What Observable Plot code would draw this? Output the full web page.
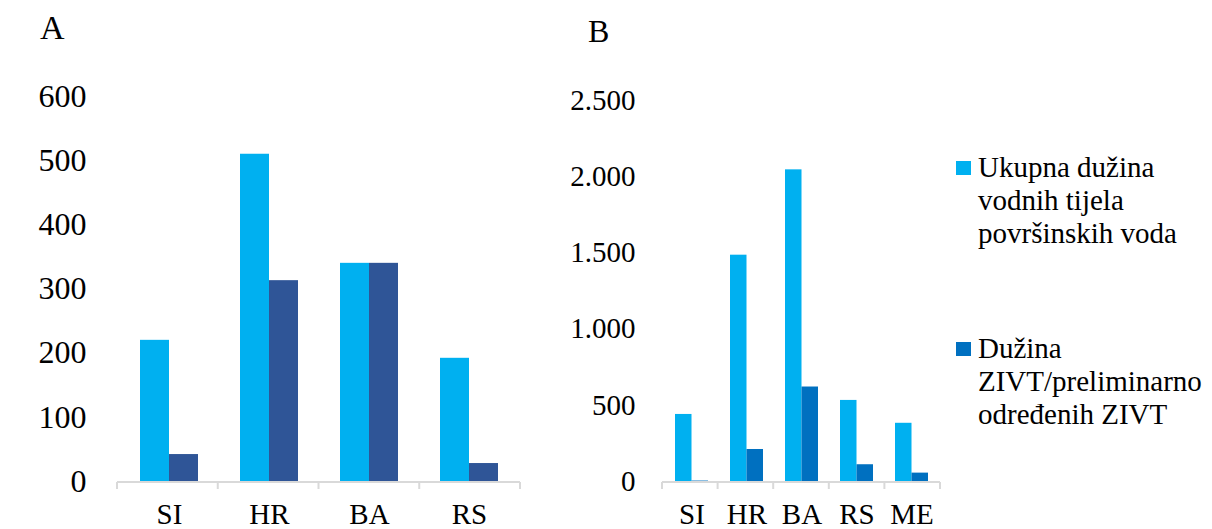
<!DOCTYPE html>
<html>
<head>
<meta charset="utf-8">
<script src="https://cdn.jsdelivr.net/npm/d3@7"></script>
<script src="https://cdn.jsdelivr.net/npm/@observablehq/plot@0.6"></script>
<style>
  body { margin: 0; background: #fff; }
  #wrap { position: relative; width: 1212px; height: 529px; overflow: hidden; font-family: 'Liberation Serif', serif; color: #000; background: #fff; }
  .panel { position: absolute; top: 0; }
  .title { position: absolute; line-height: 1; white-space: nowrap; font-family: 'Liberation Serif', serif; }
  .leg { position: absolute; font-family: 'Liberation Serif', serif; font-size: 29px; line-height: 33px; white-space: nowrap; }
  .sw { position: absolute; width: 15px; height: 14px; }
</style>
</head>
<body>
<div id="wrap"></div>
<script>
// ---- data ----
const catsA = ["SI", "HR", "BA", "RS"];
const totalA = [220, 510, 340, 192];
const zivtA = [42, 313, 340, 28];

const catsB = ["SI", "HR", "BA", "RS", "ME"];
const totalB = [440, 1485, 2045, 532, 382];
const zivtB = [3, 210, 620, 110, 55];

const ticksA = [0, 100, 200, 300, 400, 500, 600];
const ticksB = [0, 500, 1000, 1500, 2000, 2500];

const legendLines = [
  ["Ukupna dužina", "vodnih tijela", "površinskih voda"],
  ["Dužina", "ZIVT/preliminarno", "određenih ZIVT"]
];

const lightBlue = "#00B0F0";
const darkA = "#2F5597";
const darkB = "#0070C0";

const fmtB = d3.formatLocale({decimal: ",", thousands: ".", grouping: [3], currency: ["", ""]}).format(",d");

function boundaryAxis(n) {
  return (index, scales, values, dims) => {
    const {width, marginLeft, marginRight} = dims;
    const x0 = marginLeft, x1 = width - marginRight;
    const y0 = scales.y(0) + 1;
    const g = d3.create("svg:g").attr("stroke", "#D9D9D9").attr("stroke-width", 2);
    g.append("line").attr("x1", x0).attr("x2", x1).attr("y1", y0).attr("y2", y0);
    for (let i = 0; i <= n; i++) {
      const x = x0 + i * (x1 - x0) / n;
      g.append("line").attr("x1", x).attr("x2", x).attr("y1", y0).attr("y2", y0 + 7);
    }
    return g.node();
  };
}

function panel(o) {
  const data = o.cats.map((c, i) => ({cat: c, total: o.total[i], zivt: o.zivt[i]}));
  const innerW = o.width - o.marginLeft - o.marginRight;
  const step = innerW / o.cats.length;
  const half = step * (1 - o.padInner) / 2;
  return Plot.plot({
    width: o.width,
    height: 529,
    marginLeft: o.marginLeft,
    marginRight: o.marginRight,
    marginTop: o.marginTop,
    marginBottom: o.marginBottom,
    style: {fontFamily: "'Liberation Serif', serif", color: "#000", background: "transparent", overflow: "visible"},
    x: {type: "band", domain: o.cats, paddingInner: o.padInner, paddingOuter: o.padInner / 2, align: 0.5},
    y: {domain: [0, o.yMax]},
    marks: [
      Plot.barY(data, {x: "cat", y: "total", fill: lightBlue, insetRight: half}),
      Plot.barY(data, {x: "cat", y: "zivt", fill: o.dark, insetLeft: half}),
      boundaryAxis(o.cats.length),
      Plot.axisY({ticks: o.ticks, tickSize: 0, tickPadding: o.yPad, fontSize: o.yFont, tickFormat: o.fmt, label: null}),
      Plot.axisX({tickSize: 0, tickPadding: 22, fontSize: 29, label: null})
    ]
  });
}

const wrap = document.getElementById("wrap");

const svgA = panel({
  cats: catsA, total: totalA, zivt: zivtA, dark: darkA,
  yMax: 600, ticks: ticksA, fmt: d => String(d),
  width: 530, marginLeft: 117, marginRight: 10, marginTop: 96, marginBottom: 48,
  padInner: 0.4243, yPad: 31, yFont: 32
});
svgA.classList.add("panel");
svgA.style.left = "0px";
wrap.appendChild(svgA);

const svgB = panel({
  cats: catsB, total: totalB, zivt: zivtB, dark: darkB,
  yMax: 2500, ticks: ticksB, fmt: fmtB,
  width: 440, marginLeft: 142, marginRight: 20, marginTop: 100, marginBottom: 48,
  padInner: 0.4065, yPad: 27, yFont: 29
});
svgB.classList.add("panel");
svgB.style.left = "520px";
wrap.appendChild(svgB);

// panel titles
function addTitle(text, left, top, size) {
  const d = document.createElement("div");
  d.className = "title";
  d.textContent = text;
  d.style.left = left + "px";
  d.style.top = top + "px";
  d.style.fontSize = size + "px";
  wrap.appendChild(d);
}
addTitle("A", 40, 11, 34);
addTitle("B", 588, 15, 32);

// legend
const legColors = [lightBlue, darkB];
const legTops = [151, 332];
legendLines.forEach((lines, i) => {
  const sw = document.createElement("div");
  sw.className = "sw";
  sw.style.background = legColors[i];
  sw.style.left = "956px";
  sw.style.top = (legTops[i] + 10) + "px";
  wrap.appendChild(sw);
  const t = document.createElement("div");
  t.className = "leg";
  t.style.left = "978px";
  t.style.top = legTops[i] + "px";
  t.innerHTML = lines.map(s => s.replace(/&/g, "&amp;").replace(/</g, "&lt;")).join("<br>");
  wrap.appendChild(t);
});
</script>
</body>
</html>
